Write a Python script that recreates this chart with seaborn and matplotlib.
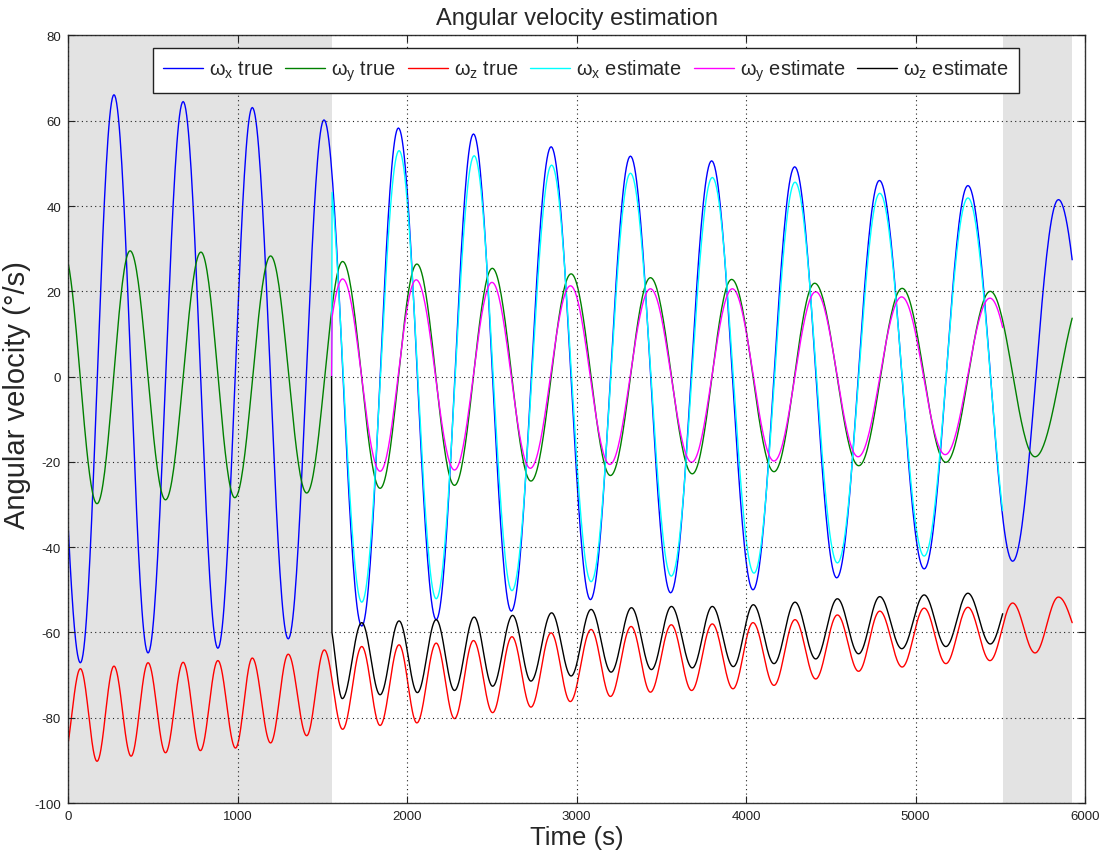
import numpy as np
import pandas as pd
import matplotlib
matplotlib.use("Agg")
import matplotlib.pyplot as plt
import seaborn as sns

# ---------------------------------------------------------------
# Turning points (time in s, angular velocity in deg/s) per signal
# ---------------------------------------------------------------
wx_true_t = [0, 73, 271, 472, 679, 884, 1087, 1299, 1510, 1733, 1949, 2172, 2392,
             2615, 2850, 3082, 3318, 3555, 3797, 4041, 4287, 4535, 4787, 5051,
             5309, 5573, 5843, 5924]
wx_true_v = [-34.5, -67.1, 66.1, -64.8, 64.5, -63.7, 63.1, -61.5, 60.2, -58.5, 58.3,
             -57.0, 56.9, -55.0, 53.9, -52.3, 51.7, -50.7, 50.6, -50.0, 49.2, -47.2,
             46.0, -45.1, 44.8, -43.3, 41.5, 27.4]

wy_true_t = [0, 171, 366, 575, 784, 984, 1195, 1408, 1620, 1841, 2058, 2280, 2503,
             2731, 2968, 3200, 3436, 3683, 3915, 4165, 4405, 4665, 4921, 5179,
             5441, 5705, 5924]
wy_true_v = [26.8, -29.8, 29.5, -28.9, 29.2, -28.4, 28.3, -27.3, 27.0, -26.2, 26.4,
             -25.5, 25.4, -24.5, 24.1, -23.2, 23.2, -22.8, 22.8, -22.3, 21.9, -20.9,
             20.7, -20.1, 20.0, -18.8, 13.7]

wz_true_t = [0, 73, 171, 271, 372, 472, 575, 679, 781, 884, 988, 1087, 1195, 1299,
             1408, 1512, 1620, 1733, 1841, 1953, 2058, 2172, 2280, 2392, 2505, 2619,
             2731, 2850, 2963, 3086, 3200, 3322, 3436, 3559, 3679, 3801, 3923, 4041,
             4165, 4289, 4411, 4539, 4664, 4789, 4921, 5051, 5179, 5309, 5439, 5573,
             5705, 5843, 5924]
wz_true_v = [-86.1, -68.5, -90.2, -67.9, -89.0, -67.1, -88.2, -67.0, -87.7, -66.6,
             -87.1, -66.0, -85.9, -65.1, -84.2, -64.1, -82.7, -63.3, -81.8, -62.9,
             -81.2, -62.5, -80.2, -61.9, -78.8, -61.0, -77.5, -60.1, -76.2, -59.3,
             -75.0, -58.6, -74.0, -58.2, -73.6, -58.0, -73.2, -57.7, -72.4, -57.0,
             -70.9, -55.9, -69.1, -55.0, -68.1, -54.3, -67.3, -54.1, -66.6, -53.1,
             -64.8, -51.7, -57.7]

# Estimator output: starts from zero when the filter is switched on
est_start_t = 1555
est_start_v = 0.0

wx_est_t = [1558, 1733, 1953, 2172, 2396, 2619, 2853, 3086, 3318, 3559, 3801, 4047,
            4289, 4539, 4789, 5051, 5309, 5514]
wx_est_v = [43.2, -52.9, 53.0, -52.1, 51.8, -50.2, 49.6, -48.1, 47.7, -46.8, 46.7,
            -46.1, 45.6, -43.7, 43.0, -42.1, 41.9, -31.4]

wy_est_t = [1558, 1620, 1841, 2054, 2280, 2501, 2727, 2964, 3196, 3436, 3679, 3919,
            4165, 4411, 4661, 4918, 5175, 5439, 5514]
wy_est_v = [14.0, 22.9, -22.2, 22.7, -21.9, 22.1, -21.5, 21.3, -20.6, 20.6, -20.1,
            20.6, -19.8, 19.9, -18.8, 18.7, -18.3, 18.4, 11.5]

wz_est_t = [1557, 1618, 1733, 1841, 1953, 2061, 2172, 2280, 2396, 2505, 2623, 2731,
            2853, 2968, 3086, 3204, 3324, 3442, 3560, 3683, 3801, 3925, 4043, 4165,
            4289, 4411, 4539, 4664, 4789, 4919, 5051, 5179, 5309, 5441, 5514]
wz_est_v = [-60.0, -75.5, -57.7, -74.6, -57.3, -74.1, -57.0, -73.6, -56.4, -72.6,
            -56.0, -71.4, -55.4, -70.2, -54.6, -69.3, -54.2, -68.7, -53.9, -68.3,
            -53.9, -68.0, -53.5, -67.3, -52.9, -66.2, -52.1, -65.0, -51.6, -63.8,
            -51.2, -63.3, -50.8, -62.7, -55.6]

# Time windows without estimator output
idle_windows = [(0, 1555), (5514, 5924)]

labels = [r"ω$_{x}$ true", r"ω$_{y}$ true", r"ω$_{z}$ true",
          r"ω$_{x}$ estimate", r"ω$_{y}$ estimate", r"ω$_{z}$ estimate"]
colors = ["#0000ff", "#008000", "#ff0000", "#00ffff", "#ff00ff", "#000000"]


def trace(ts, vs, n=40):
    """Smooth oscillation through successive turning points.

    Interior segments are half cosines between extrema; the first and last
    segments are partial cosines ending/starting at a non-extremal value."""
    ts = np.asarray(ts, float)
    vs = np.asarray(vs, float)
    N = len(ts)
    out_t, out_v = [], []
    for i in range(N - 1):
        t0, t1, v0, v1 = ts[i], ts[i + 1], vs[i], vs[i + 1]
        s = np.linspace(0.0, 1.0, n)
        if i == 0 and N > 2:
            mid = 0.5 * (v1 + vs[2])
            amp = v1 - mid
            ph = np.arccos(np.clip((v0 - mid) / amp, -1, 1))
            seg = mid + amp * np.cos(ph * (1 - s))
        elif i == N - 2 and N > 2:
            mid = 0.5 * (v0 + vs[N - 3])
            amp = v0 - mid
            ph = np.arccos(np.clip((v1 - mid) / amp, -1, 1))
            seg = mid + amp * np.cos(ph * s)
        else:
            seg = v0 + (v1 - v0) * (1 - np.cos(np.pi * s)) / 2
        tt = t0 + (t1 - t0) * s
        if i > 0:
            tt, seg = tt[1:], seg[1:]
        out_t.append(tt)
        out_v.append(seg)
    return np.concatenate(out_t), np.concatenate(out_v)


frames = []
for name, (t, v) in zip(labels, [(wx_true_t, wx_true_v), (wy_true_t, wy_true_v),
                                 (wz_true_t, wz_true_v)]):
    tt, vv = trace(t, v)
    frames.append(pd.DataFrame({"t": tt, "w": vv, "signal": name}))
for name, (t, v) in zip(labels[3:], [(wx_est_t, wx_est_v), (wy_est_t, wy_est_v),
                                     (wz_est_t, wz_est_v)]):
    tt, vv = trace(t, v)
    tt = np.concatenate([[est_start_t], tt])
    vv = np.concatenate([[est_start_v], vv])
    frames.append(pd.DataFrame({"t": tt, "w": vv, "signal": name}))
df = pd.concat(frames, ignore_index=True)

sns.set_style("ticks")
plt.rcParams["font.family"] = ["Liberation Sans", "DejaVu Sans"]
plt.rcParams["mathtext.default"] = "regular"
plt.rcParams["axes.unicode_minus"] = False

fig = plt.figure(figsize=(11.01, 8.54), dpi=100)
ax = fig.add_axes([0.0618, 0.0585, 0.9237, 0.8988])

for x0, x1 in idle_windows:
    ax.axvspan(x0, x1, color="#e3e3e3", lw=0, zorder=0)

sns.lineplot(data=df, x="t", y="w", hue="signal", hue_order=labels,
             palette=dict(zip(labels, colors)), estimator=None, sort=False,
             units="signal", linewidth=1.0, ax=ax, legend=False)

ax.set_xlim(0, 6000)
ax.set_ylim(-100, 80)
ax.set_xticks(np.arange(0, 6001, 1000))
ax.set_yticks(np.arange(-100, 81, 20))
ax.grid(True, linestyle=(0, (1, 3)), color="#222222", linewidth=0.8)
ax.set_axisbelow(False)
for gl in ax.get_xgridlines() + ax.get_ygridlines():
    gl.set_zorder(0.5)

ax.tick_params(direction="in", length=5, width=0.8, top=True, right=True,
               labelsize=9.5, pad=5, colors="#222222")
for sp in ax.spines.values():
    sp.set_visible(True)
    sp.set_linewidth(1.0)
    sp.set_color("#333333")

ax.set_title("Angular velocity estimation", fontsize=17, pad=8)
ax.set_xlabel("Time (s)", fontsize=18.5, labelpad=2)
ax.set_ylabel("Angular velocity (°/s)", fontsize=21)
ax.yaxis.set_label_coords(-0.036, 0.533)

handles = [plt.Line2D([], [], color=c, lw=1.0) for c in colors]
leg = ax.legend(handles, labels, ncol=6, loc="upper left",
                bbox_to_anchor=(0.0836, 0.9836), borderaxespad=0,
                fontsize=14.4, handlelength=2.0, handletextpad=0.3,
                columnspacing=0.6, borderpad=0.48, fancybox=False,
                framealpha=1, edgecolor="#222222")
leg.get_frame().set_linewidth(1.0)

fig.savefig("out.png", dpi=100)
